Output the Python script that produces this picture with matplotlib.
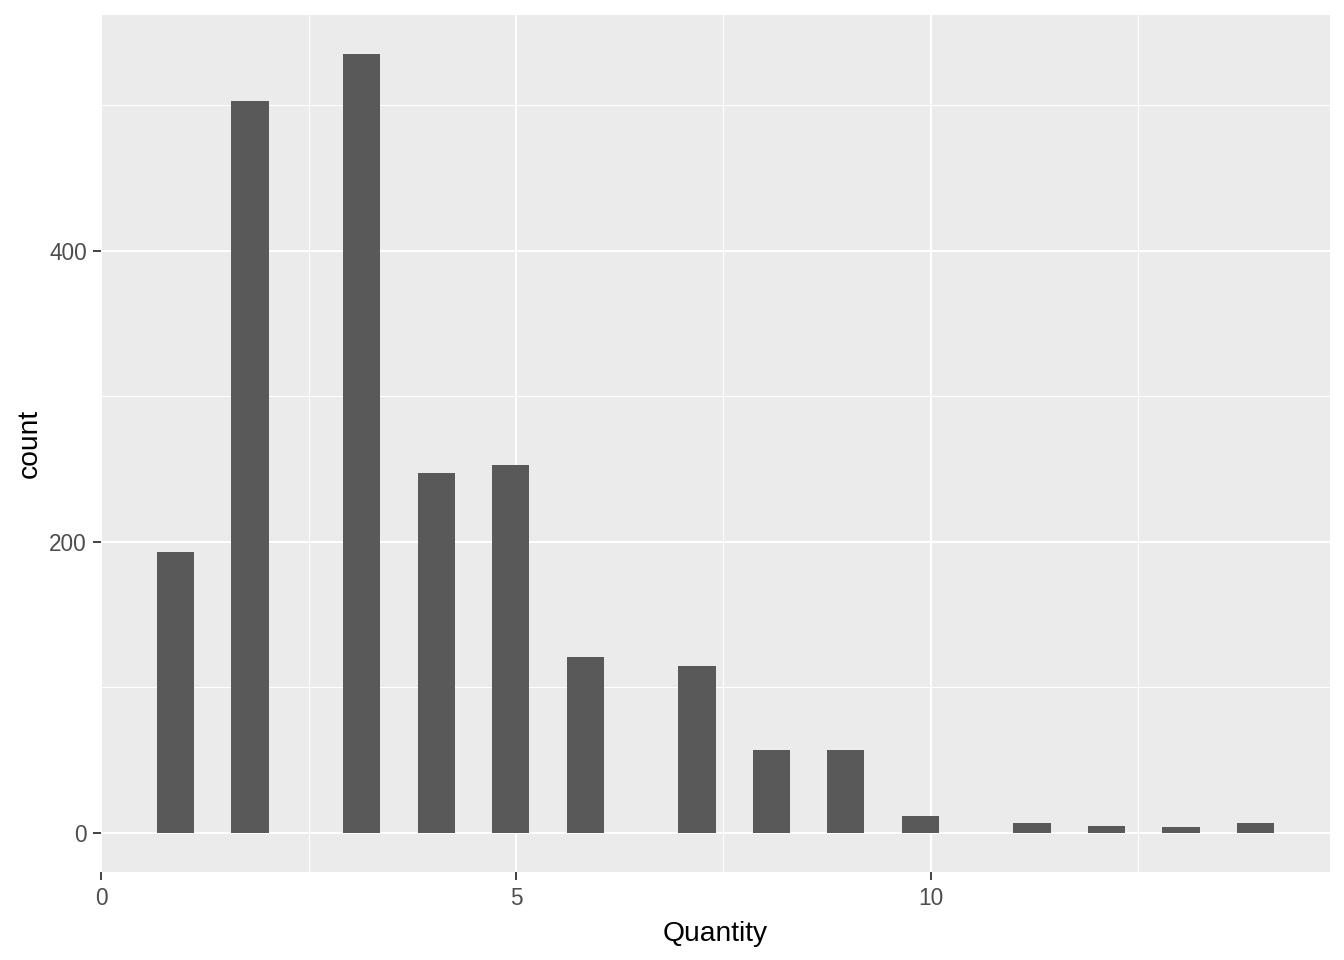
import numpy as np
import matplotlib
matplotlib.use("Agg")
import matplotlib.pyplot as plt
from matplotlib.ticker import FixedLocator

plt.rcParams['font.family'] = ['Liberation Sans', 'DejaVu Sans']

# histogram: 30 bins over the data range
data_min = 0.672
data_max = 14.14
n_bins = 30
counts = [193, 0, 503, 0, 0, 535, 0, 247, 0, 253,
          0, 121, 0, 0, 115, 0, 57, 0, 57, 0,
          12, 0, 0, 7, 0, 5, 0, 4, 0, 7]
x_ticks = [0, 5, 10]
y_ticks = [0, 200, 400]
x_label = "Quantity"
y_label = "count"

edges = np.linspace(data_min, data_max, n_bins + 1)
width = edges[1] - edges[0]

fig = plt.figure(figsize=(13.44, 9.6), dpi=100)
ax = fig.add_axes([101/1344, 1 - 872/960, (1330-101)/1344, (872-15)/960])
ax.set_facecolor('#EBEBEB')

ax.bar(edges[:-1], counts, width=width, align='edge', color='#595959', zorder=3)

xr = data_max - data_min
ax.set_xlim(data_min - 0.05*xr, data_max + 0.05*xr)
ymax = max(counts)
ax.set_ylim(-0.05*ymax, ymax*1.05)

ax.xaxis.set_major_locator(FixedLocator(x_ticks))
ax.yaxis.set_major_locator(FixedLocator(y_ticks))
ax.xaxis.set_minor_locator(FixedLocator([2.5, 7.5, 12.5]))
ax.yaxis.set_minor_locator(FixedLocator([100, 300, 500]))
ax.grid(which='major', color='white', linewidth=1.5, zorder=0)
ax.grid(which='minor', color='white', linewidth=0.75, zorder=0)
ax.set_axisbelow(True)
for s in ax.spines.values():
    s.set_visible(False)
ax.tick_params(which='major', length=5.5, width=1.3, color='#333333',
               labelsize=16.3, labelcolor='#4D4D4D')
ax.tick_params(axis='x', pad=5.5)
ax.tick_params(axis='y', pad=4.5)
ax.tick_params(which='minor', length=0)

ax.set_xlabel(x_label, fontsize=20.3, color='black', labelpad=8)
ax.set_ylabel(y_label, fontsize=20.3, color='black', labelpad=5)

fig.savefig('out.png', dpi=100)
